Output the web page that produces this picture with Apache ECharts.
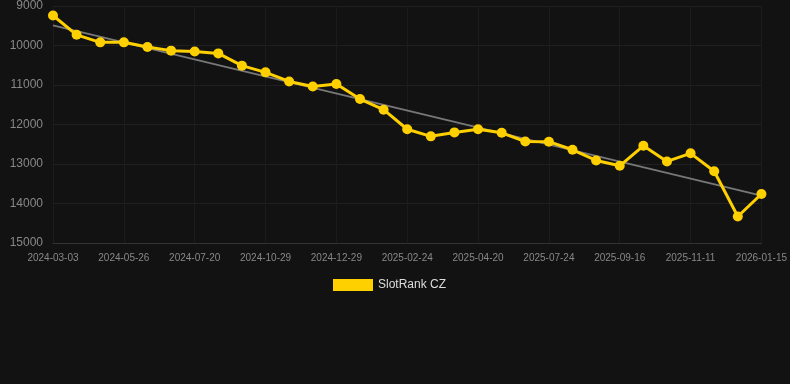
<!DOCTYPE html>
<html>
<head>
<meta charset="UTF-8">
<title>SlotRank CZ</title>
<script src="https://cdn.jsdelivr.net/npm/echarts@6/dist/echarts.min.js"></script>
<style>
  html, body { margin: 0; padding: 0; background: #121212; }
  #main { width: 790px; height: 384px; }
</style>
</head>
<body>
<div id="main"></div>
<script type="text/javascript">
// dates (x axis categories)
var dates = [
  '2024-03-03', '2024-03-31', '2024-04-28', '2024-05-26', '2024-06-13', '2024-07-02',
  '2024-07-20', '2024-08-25', '2024-09-28', '2024-10-29', '2024-11-19', '2024-12-09',
  '2024-12-29', '2025-01-18', '2025-02-05', '2025-02-24', '2025-03-14', '2025-04-02',
  '2025-04-20', '2025-05-24', '2025-06-28', '2025-07-24', '2025-08-10', '2025-08-29',
  '2025-09-16', '2025-10-05', '2025-10-23', '2025-11-11', '2025-12-02', '2025-12-24',
  '2026-01-15'
];
// rank values
var rankCZ = [
  9240, 9730, 9920, 9920, 10040, 10130,
  10150, 10200, 10510, 10680, 10910, 11040,
  10975, 11355, 11625, 12120, 12300, 12200,
  12120, 12210, 12430, 12435, 12640, 12910,
  13045, 12540, 12935, 12730, 13185, 14330,
  13760
];
// trend line end values (first / last date)
var trendEnds = [9490, 13800];
var yTicks = { min: 9000, max: 15000, step: 1000 };

var myChart = echarts.init(document.getElementById('main'));

var option = {
  backgroundColor: '#121212',
  animation: false,
  grid: { left: 53, right: 28, top: 6, bottom: 141 },
  legend: {
    bottom: 88,
    left: 328,
    itemWidth: 40,
    itemHeight: 12,
    icon: 'rect',
    textStyle: { color: '#dddddd', fontSize: 12, fontFamily: 'Liberation Sans, Arial, sans-serif' },
    data: ['SlotRank CZ']
  },
  xAxis: {
    type: 'category',
    data: dates,
    boundaryGap: false,
    axisLine: { show: true, lineStyle: { color: '#333333' } },
    axisTick: { show: false },
    axisLabel: {
      interval: 2,
      color: '#888888',
      fontSize: 10,
      margin: 10,
      fontFamily: 'Liberation Sans, Arial, sans-serif'
    },
    splitLine: { show: true, interval: 2, lineStyle: { color: '#1c1c1c' } }
  },
  yAxis: {
    type: 'value',
    inverse: true,
    min: yTicks.min,
    max: yTicks.max,
    interval: yTicks.step,
    axisLine: { show: false },
    axisTick: { show: false },
    axisLabel: {
      color: '#888888',
      fontSize: 12,
      margin: 10,
      formatter: function (v) { return String(v); },
      fontFamily: 'Liberation Sans, Arial, sans-serif'
    },
    splitLine: { lineStyle: { color: '#202020' } }
  },
  series: [
    {
      name: 'SlotRank CZ',
      type: 'line',
      data: rankCZ,
      symbol: 'circle',
      symbolSize: 10,
      itemStyle: { color: '#ffd000' },
      lineStyle: { color: '#ffd000', width: 3 },
      z: 3,
      markLine: {
        silent: true,
        symbol: 'none',
        label: { show: false },
        lineStyle: { color: '#777777', width: 2, type: 'solid' },
        z: 2,
        data: [[
          { coord: [dates[0], trendEnds[0]] },
          { coord: [dates[dates.length - 1], trendEnds[1]] }
        ]]
      }
    }
  ]
};

myChart.setOption(option);
</script>
</body>
</html>
